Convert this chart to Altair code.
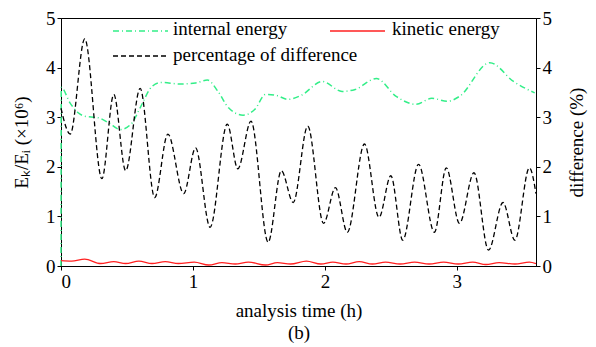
import altair as alt
import pandas as pd

# percentage of difference (right axis, %)
pct_t = [0, 0.07, 0.18, 0.31, 0.40, 0.49, 0.60, 0.71, 0.81, 0.93, 1.02, 1.13, 1.26, 1.34, 1.44, 1.57,
         1.67, 1.76, 1.87, 1.99, 2.08, 2.17, 2.30, 2.41, 2.50, 2.59, 2.71, 2.83, 2.92, 3.02, 3.13, 3.24,
         3.35, 3.44, 3.55, 3.60]
pct_v = [3.18, 2.66, 4.58, 1.76, 3.46, 1.92, 3.58, 1.38, 2.66, 1.46, 2.38, 0.78, 2.86, 1.96, 2.92, 0.48,
         1.92, 1.28, 2.82, 0.86, 1.58, 0.68, 2.46, 0.98, 1.82, 0.52, 2.05, 0.68, 1.98, 0.86, 1.88, 0.32,
         1.28, 0.52, 1.98, 1.46]

# internal energy (left axis)
int_t = [0, 0.002, 0.068, 0.13, 0.18, 0.28, 0.36, 0.45, 0.54, 0.60, 0.69, 0.76, 0.90, 1.02, 1.11, 1.19,
         1.27, 1.38, 1.47, 1.55, 1.63, 1.72, 1.82, 1.98, 2.13, 2.23, 2.39, 2.54, 2.69, 2.81, 2.93, 3.02,
         3.25, 3.43, 3.59]
int_v = [0, 3.60, 3.29, 3.09, 3.02, 2.99, 2.89, 2.75, 2.89, 3.19, 3.62, 3.70, 3.67, 3.69, 3.75, 3.52,
         3.19, 3.04, 3.16, 3.46, 3.44, 3.36, 3.44, 3.72, 3.52, 3.56, 3.78, 3.42, 3.26, 3.38, 3.32, 3.42,
         4.10, 3.72, 3.49]

# kinetic energy (left axis)
kin_t = [0, 0.08, 0.18, 0.30, 0.40, 0.49, 0.59, 0.69, 0.79, 0.89, 1.01, 1.12, 1.22, 1.32, 1.42, 1.55,
         1.64, 1.74, 1.86, 1.97, 2.06, 2.16, 2.26, 2.36, 2.46, 2.57, 2.68, 2.79, 2.90, 3.01, 3.12, 3.22,
         3.32, 3.44, 3.55, 3.60]
kin_v = [0.11, 0.10, 0.14, 0.05, 0.09, 0.05, 0.10, 0.05, 0.09, 0.05, 0.08, 0.02, 0.07, 0.04, 0.08, 0.02,
         0.07, 0.04, 0.10, 0.04, 0.08, 0.04, 0.09, 0.04, 0.08, 0.04, 0.08, 0.04, 0.08, 0.04, 0.08, 0.03,
         0.07, 0.04, 0.08, 0.05]

FONT = "Liberation Serif"
GREEN = "#33ee88"
RED = "#ff2020"

pct = pd.DataFrame({"t": pct_t, "v": pct_v})
ie = pd.DataFrame({"t": int_t, "v": int_v})
ke = pd.DataFrame({"t": kin_t, "v": kin_v})

H = 248
xsc = alt.Scale(domain=[0, 3.6], nice=False, zero=False)
xax = alt.Axis(values=[0, 1, 2, 3], format="d", title=["analysis time (h)", "(b)"], titleLineHeight=22,
               titlePadding=10)
ysc = alt.Scale(domain=[0, 5], nice=False)

left_axis = alt.Axis(values=[0, 1, 2, 3, 4, 5], title="Eₖ/Eᵢ (×10⁶)", titleAngle=270,
                     titleX=-40, titleY=H / 2, titleAlign="center", titleBaseline="middle")
right_axis = alt.Axis(values=[0, 1, 2, 3, 4, 5], orient="right", title="difference (%)", titleAngle=270,
                      titleX=40, titleY=H / 2, titleAlign="center", titleBaseline="middle")

ie_line = alt.Chart(ie).mark_line(color=GREEN, strokeWidth=1.5, strokeDash=[6, 3, 1, 3],
                                  interpolate="monotone").encode(
    x=alt.X("t:Q", scale=xsc, axis=xax),
    y=alt.Y("v:Q", scale=ysc, axis=left_axis),
)
ke_line = alt.Chart(ke).mark_line(color=RED, strokeWidth=1.3, interpolate="monotone").encode(
    x=alt.X("t:Q", scale=xsc),
    y=alt.Y("v:Q", scale=ysc),
)
left = alt.layer(ie_line, ke_line)

right = alt.Chart(pct).mark_line(color="black", strokeWidth=1.3, strokeDash=[5, 3],
                                 interpolate="monotone").encode(
    x=alt.X("t:Q", scale=xsc),
    y=alt.Y("v:Q", scale=ysc, axis=right_axis),
)

# manual legend (MATLAB-style)
dummy = pd.DataFrame({"a": [0]})
leg_ie = alt.Chart(dummy).mark_rule(color=GREEN, strokeWidth=1.5, strokeDash=[6, 3, 1, 3]).encode(
    x=alt.value(52), x2=alt.value(107), y=alt.value(13))
leg_ke = alt.Chart(dummy).mark_rule(color=RED, strokeWidth=1.5).encode(
    x=alt.value(269), x2=alt.value(324), y=alt.value(13))
leg_pc = alt.Chart(dummy).mark_rule(color="black", strokeWidth=1.3, strokeDash=[5, 3]).encode(
    x=alt.value(52), x2=alt.value(107), y=alt.value(38))
txt = dict(font=FONT, fontSize=19, align="left", baseline="middle", color="black")
t_ie = alt.Chart(dummy).mark_text(**txt).encode(x=alt.value(112), y=alt.value(11),
                                                 text=alt.value("internal energy"))
t_ke = alt.Chart(dummy).mark_text(**txt).encode(x=alt.value(331), y=alt.value(11),
                                                 text=alt.value("kinetic energy"))
t_pc = alt.Chart(dummy).mark_text(**txt).encode(x=alt.value(112), y=alt.value(37),
                                                 text=alt.value("percentage of difference"))

chart = alt.layer(left, right, leg_ie, leg_ke, leg_pc, t_ie, t_ke, t_pc).resolve_scale(
    y="independent"
).properties(
    width=475, height=H,
    background="white",
    autosize=alt.AutoSizeParams(type="none"),
    padding={"left": 53, "top": 10, "right": 52, "bottom": 80},
).configure_view(stroke="black", strokeWidth=1).configure_axis(
    grid=False, domainColor="black", domainWidth=1, tickColor="black", tickSize=4, tickWidth=1,
    labelFont=FONT, labelFontSize=19, labelColor="black", labelPadding=2,
    titleFont=FONT, titleFontSize=19, titleFontWeight="normal", titleColor="black",
)

chart.save("out.html", embed_options={"renderer": "svg", "actions": False})
